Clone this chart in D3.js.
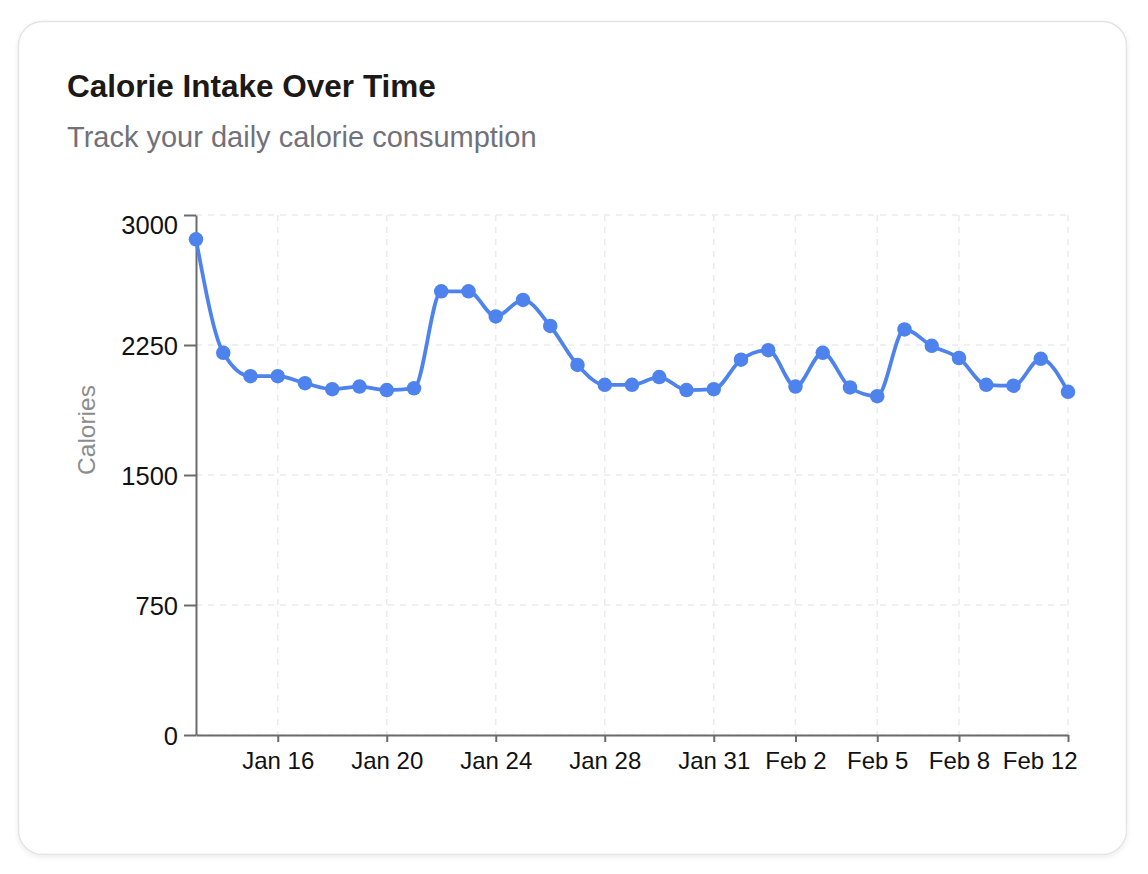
<!DOCTYPE html>
<html>
<head>
<meta charset="utf-8">
<script src="https://cdn.jsdelivr.net/npm/d3@7/dist/d3.min.js"></script>
<style>
  html, body { margin: 0; padding: 0; background: #ffffff; }
  svg { display: block; font-family: "Liberation Sans", Arial, Helvetica, sans-serif; }
</style>
</head>
<body>
<svg id="chart" width="1148" height="874"></svg>
<script>
// ---- data ----
const dates = ["Jan 13","Jan 14","Jan 15","Jan 16","Jan 17","Jan 18","Jan 19","Jan 20","Jan 21","Jan 22","Jan 23","Jan 24","Jan 25","Jan 26","Jan 27","Jan 28","Jan 29","Jan 30","Jan 30","Jan 31","Feb 1","Feb 1","Feb 2","Feb 3","Feb 4","Feb 5","Feb 6","Feb 7","Feb 8","Feb 9","Feb 10","Feb 11","Feb 12"];
const calories = [2860,2205,2070,2070,2030,1995,2010,1990,2000,2560,2560,2415,2510,2360,2135,2020,2020,2065,1990,1995,2165,2220,2010,2205,2005,1955,2340,2245,2175,2020,2015,2170,1980];
const xTickIndices = [3,7,11,15,19,22,25,28,32];
const yTicks = [0,750,1500,2250,3000];
const titleText = "Calorie Intake Over Time";
const subtitleText = "Track your daily calorie consumption";
const yLabel = "Calories";

// ---- layout ----
const svg = d3.select("#chart");
const plot = { left: 196, right: 1068, top: 215, bottom: 735 };
const lineColor = "#4e83ee";

// card
const defs = svg.append("defs");
const f = defs.append("filter").attr("id","shadow").attr("x","-5%").attr("y","-5%").attr("width","110%").attr("height","110%");
f.append("feDropShadow").attr("dx",0).attr("dy",2).attr("stdDeviation",2.5).attr("flood-color","#000").attr("flood-opacity",0.08);
svg.append("rect")
  .attr("x",18.5).attr("y",21.5).attr("width",1108).attr("height",833)
  .attr("rx",24).attr("ry",24)
  .attr("fill","#ffffff").attr("stroke","#e4e4e7").attr("stroke-width",1.5)
  .attr("filter","url(#shadow)");

svg.append("text").attr("x",67).attr("y",97)
  .attr("font-size",31.5).attr("font-weight",700).attr("fill","#1c1917")
  .text(titleText);
svg.append("text").attr("x",67).attr("y",147)
  .attr("font-size",29).attr("fill","#71717a")
  .text(subtitleText);

// scales
const x = d3.scaleLinear().domain([0, calories.length - 1]).range([plot.left, plot.right]);
const y = d3.scaleLinear().domain([0, 3000]).range([plot.bottom, plot.top]);

// grid
const grid = svg.append("g").attr("stroke","#ebebeb").attr("stroke-width",1.5).attr("stroke-dasharray","6 6").attr("fill","none");
grid.selectAll("line.h").data(yTicks).join("line")
  .attr("x1",plot.left).attr("x2",plot.right)
  .attr("y1",d=>y(d)).attr("y2",d=>y(d));
grid.selectAll("line.v").data(xTickIndices).join("line")
  .attr("x1",d=>x(d)).attr("x2",d=>x(d))
  .attr("y1",plot.top).attr("y2",plot.bottom);

// axes
const axisColor = "#6b6b6b";
const xAxis = svg.append("g").attr("transform",`translate(0,${plot.bottom})`)
  .call(d3.axisBottom(x).tickValues(xTickIndices).tickFormat(i=>dates[i]).tickSize(7).tickSizeOuter(0).tickPadding(10));
const yAxis = svg.append("g").attr("transform",`translate(${plot.left},0)`)
  .call(d3.axisLeft(y).tickValues(yTicks).tickFormat(d3.format("d")).tickSize(12).tickSizeOuter(0).tickPadding(6));
[xAxis, yAxis].forEach(a => {
  a.select(".domain").attr("stroke",axisColor).attr("stroke-width",2);
  a.selectAll(".tick line").attr("stroke",axisColor).attr("stroke-width",2);
  a.selectAll(".tick text").attr("fill","#111").attr("font-size",24).attr("font-family","Liberation Sans, Arial, sans-serif");
});
yAxis.selectAll(".tick text").attr("font-size",25.5);
// keep last x label inside the card and first y label below the top edge
xAxis.selectAll(".tick text").filter(i => i === xTickIndices[xTickIndices.length-1])
  .attr("text-anchor","end").attr("dx",9);
yAxis.selectAll(".tick text").filter(d => d === yTicks[yTicks.length-1])
  .attr("dy","0.72em");
yAxis.selectAll(".tick text").filter(d => d !== yTicks[yTicks.length-1])
  .attr("dy","0.37em");

// y label
svg.append("text")
  .attr("transform","translate(95,430) rotate(-90)")
  .attr("text-anchor","middle")
  .attr("font-size",24.5).attr("fill","#8c8c8c")
  .text(yLabel);

// line
const line = d3.line().x((d,i)=>x(i)).y(d=>y(d)).curve(d3.curveMonotoneX);
svg.append("path").datum(calories)
  .attr("d",line).attr("fill","none")
  .attr("stroke",lineColor).attr("stroke-width",3.75).attr("stroke-linejoin","round");

svg.append("g").selectAll("circle").data(calories).join("circle")
  .attr("cx",(d,i)=>x(i)).attr("cy",d=>y(d)).attr("r",7.25)
  .attr("fill",lineColor);
</script>
</body>
</html>
